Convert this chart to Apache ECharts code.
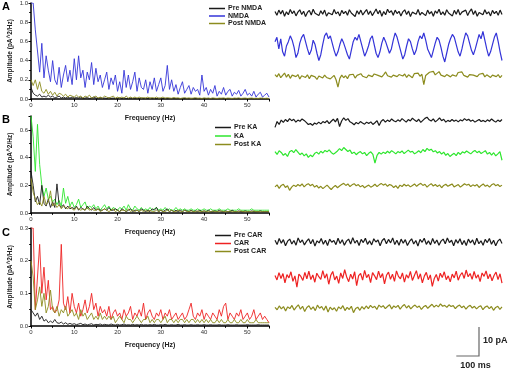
<!DOCTYPE html>
<html>
<head>
<meta charset="utf-8">
<script src="https://cdn.jsdelivr.net/npm/echarts@6/dist/echarts.min.js"></script>
<style>
  html, body { margin: 0; padding: 0; background: #fff; }
  #chart { width: 512px; height: 370px; }
</style>
</head>
<body>
<div id="chart"></div>
<script>
// spectra: amplitude (pA^2/Hz) sampled every 0.5 Hz from 0 to 55 Hz
const freqStep = 0.5
const spA_pre = [0.12, 0.06, 0.04, 0.03, 0.05, 0.02, 0.03, 0.02, 0.04, 0.02,
  0.03, 0.01, 0.02, 0.03, 0.01, 0.02, 0.01, 0.02, 0.01, 0.02,
  0.01, 0.015, 0.01, 0.02, 0.005, 0.01, 0.015, 0.005, 0.01, 0.02,
  0.01, 0.005, 0.015, 0.008, 0.01, 0.005, 0.012, 0.006, 0.01, 0.004,
  0.008, 0.012, 0.005, 0.01, 0.006, 0.004, 0.01, 0.005, 0.008, 0.004,
  0.006, 0.01, 0.004, 0.007, 0.005, 0.009, 0.004, 0.006, 0.003, 0.008,
  0.005, 0.004, 0.007, 0.003, 0.006, 0.004, 0.008, 0.003, 0.005, 0.004,
  0.006, 0.003, 0.005, 0.004, 0.007, 0.003, 0.004, 0.006, 0.003, 0.005,
  0.004, 0.003, 0.006, 0.004, 0.003, 0.005, 0.003, 0.004, 0.006, 0.003,
  0.004, 0.003, 0.005, 0.003, 0.004, 0.003, 0.005, 0.003, 0.004, 0.003,
  0.004, 0.003, 0.005, 0.003, 0.004, 0.003, 0.003, 0.004, 0.003, 0.004, 0.003]
const spA_nmda = [1.0, 1.0, 0.72, 0.5, 0.28, 0.58, 0.22, 0.45, 0.3, 0.18,
  0.4, 0.2, 0.15, 0.33, 0.12, 0.25, 0.35, 0.18, 0.3, 0.15,
  0.42, 0.2, 0.45, 0.22, 0.3, 0.12, 0.28, 0.2, 0.38, 0.15,
  0.32, 0.18, 0.25, 0.12, 0.2, 0.28, 0.1, 0.22, 0.15, 0.25,
  0.08, 0.18, 0.06, 0.3, 0.12, 0.25, 0.1, 0.18, 0.28, 0.08,
  0.22, 0.12, 0.1, 0.2, 0.06, 0.18, 0.1, 0.22, 0.08, 0.15,
  0.22, 0.08, 0.14, 0.35, 0.1, 0.2, 0.08, 0.15, 0.05, 0.12,
  0.18, 0.06, 0.1, 0.14, 0.05, 0.12, 0.08, 0.1, 0.04, 0.25,
  0.08, 0.12, 0.04, 0.1, 0.06, 0.14, 0.03, 0.08, 0.05, 0.12,
  0.04, 0.08, 0.1, 0.03, 0.07, 0.05, 0.09, 0.03, 0.06, 0.1,
  0.04, 0.06, 0.03, 0.08, 0.02, 0.05, 0.07, 0.02, 0.04, 0.06, 0.02]
const spA_post = [0.2, 0.14, 0.2, 0.1, 0.18, 0.08, 0.06, 0.1, 0.05, 0.08,
  0.04, 0.07, 0.03, 0.06, 0.05, 0.03, 0.05, 0.02, 0.04, 0.03,
  0.02, 0.04, 0.02, 0.03, 0.01, 0.03, 0.02, 0.04, 0.01, 0.02,
  0.03, 0.01, 0.02, 0.01, 0.03, 0.02, 0.01, 0.02, 0.03, 0.01,
  0.02, 0.01, 0.02, 0.01, 0.03, 0.01, 0.02, 0.01, 0.02, 0.01,
  0.02, 0.01, 0.015, 0.01, 0.02, 0.008, 0.015, 0.01, 0.02, 0.008,
  0.012, 0.02, 0.008, 0.015, 0.01, 0.008, 0.015, 0.01, 0.012, 0.006,
  0.01, 0.015, 0.008, 0.012, 0.006, 0.01, 0.014, 0.008, 0.01, 0.006,
  0.012, 0.008, 0.01, 0.006, 0.012, 0.008, 0.006, 0.01, 0.008, 0.012,
  0.006, 0.01, 0.008, 0.006, 0.01, 0.008, 0.012, 0.006, 0.008, 0.01,
  0.006, 0.008, 0.01, 0.006, 0.008, 0.006, 0.01, 0.008, 0.006, 0.008, 0.006]

const spB_pre = [0.3, 0.2, 0.08, 0.12, 0.06, 0.2, 0.07, 0.05, 0.1, 0.04,
  0.08, 0.04, 0.21, 0.06, 0.04, 0.06, 0.03, 0.05, 0.03, 0.04,
  0.03, 0.05, 0.02, 0.04, 0.03, 0.02, 0.05, 0.03, 0.02, 0.04,
  0.02, 0.03, 0.02, 0.02, 0.03, 0.02, 0.04, 0.02, 0.02, 0.03,
  0.02, 0.01, 0.03, 0.02, 0.01, 0.02, 0.03, 0.01, 0.02, 0.02,
  0.01, 0.03, 0.02, 0.01, 0.02, 0.01, 0.03, 0.02, 0.04, 0.01,
  0.02, 0.01, 0.02, 0.03, 0.01, 0.02, 0.01, 0.02, 0.01, 0.02,
  0.01, 0.02, 0.015, 0.01, 0.02, 0.01, 0.015, 0.01, 0.02, 0.01,
  0.015, 0.01, 0.02, 0.01, 0.01, 0.015, 0.01, 0.02, 0.01, 0.01,
  0.015, 0.01, 0.01, 0.02, 0.01, 0.01, 0.015, 0.01, 0.01, 0.015,
  0.01, 0.01, 0.015, 0.01, 0.01, 0.01, 0.015, 0.01, 0.01, 0.01, 0.01]
const spB_ka = [0.7, 0.55, 0.3, 0.64, 0.35, 0.2, 0.12, 0.18, 0.1, 0.12,
  0.08, 0.1, 0.06, 0.09, 0.05, 0.18, 0.07, 0.12, 0.05, 0.08,
  0.04, 0.06, 0.1, 0.04, 0.06, 0.08, 0.03, 0.05, 0.04, 0.06,
  0.03, 0.05, 0.02, 0.04, 0.06, 0.03, 0.05, 0.02, 0.04, 0.03,
  0.02, 0.04, 0.03, 0.05, 0.02, 0.06, 0.03, 0.02, 0.05, 0.03,
  0.02, 0.04, 0.02, 0.03, 0.02, 0.04, 0.02, 0.03, 0.04, 0.02,
  0.03, 0.02, 0.04, 0.02, 0.03, 0.02, 0.02, 0.04, 0.02, 0.03,
  0.02, 0.03, 0.02, 0.02, 0.03, 0.02, 0.02, 0.03, 0.02, 0.02,
  0.03, 0.02, 0.02, 0.03, 0.02, 0.02, 0.02, 0.03, 0.02, 0.02,
  0.02, 0.03, 0.02, 0.02, 0.02, 0.02, 0.03, 0.02, 0.02, 0.02,
  0.02, 0.02, 0.03, 0.02, 0.02, 0.02, 0.02, 0.02, 0.02, 0.02, 0.02]
const spB_post = [0.25, 0.15, 0.1, 0.06, 0.08, 0.05, 0.12, 0.06, 0.08, 0.16,
  0.05, 0.07, 0.04, 0.06, 0.03, 0.05, 0.04, 0.03, 0.05, 0.03,
  0.02, 0.04, 0.03, 0.02, 0.03, 0.02, 0.04, 0.02, 0.03, 0.02,
  0.02, 0.03, 0.01, 0.02, 0.03, 0.02, 0.01, 0.02, 0.03, 0.01,
  0.02, 0.01, 0.02, 0.02, 0.01, 0.03, 0.01, 0.02, 0.01, 0.02,
  0.01, 0.02, 0.01, 0.02, 0.01, 0.02, 0.01, 0.01, 0.02, 0.01,
  0.02, 0.01, 0.01, 0.02, 0.01, 0.02, 0.01, 0.01, 0.02, 0.01,
  0.01, 0.02, 0.01, 0.01, 0.015, 0.01, 0.01, 0.015, 0.01, 0.01,
  0.015, 0.01, 0.01, 0.01, 0.015, 0.01, 0.01, 0.01, 0.015, 0.01,
  0.01, 0.01, 0.015, 0.01, 0.01, 0.01, 0.01, 0.015, 0.01, 0.01,
  0.01, 0.01, 0.01, 0.015, 0.01, 0.01, 0.01, 0.01, 0.01, 0.01, 0.01]

const spC_pre = [0.05, 0.04, 0.03, 0.04, 0.02, 0.03, 0.015, 0.02, 0.01, 0.015,
  0.01, 0.02, 0.01, 0.008, 0.012, 0.006, 0.01, 0.005, 0.008, 0.005,
  0.007, 0.004, 0.006, 0.008, 0.004, 0.006, 0.003, 0.005, 0.007, 0.003,
  0.005, 0.004, 0.006, 0.003, 0.005, 0.004, 0.003, 0.006, 0.004, 0.003,
  0.005, 0.003, 0.004, 0.006, 0.003, 0.004, 0.003, 0.005, 0.003, 0.004,
  0.003, 0.005, 0.003, 0.004, 0.003, 0.004, 0.003, 0.005, 0.003, 0.003,
  0.004, 0.003, 0.005, 0.003, 0.003, 0.004, 0.003, 0.003, 0.005, 0.003,
  0.003, 0.004, 0.003, 0.003, 0.004, 0.003, 0.003, 0.004, 0.003, 0.003,
  0.004, 0.003, 0.003, 0.004, 0.003, 0.003, 0.003, 0.004, 0.003, 0.003,
  0.003, 0.004, 0.003, 0.003, 0.003, 0.004, 0.003, 0.003, 0.003, 0.003,
  0.004, 0.003, 0.003, 0.003, 0.003, 0.004, 0.003, 0.003, 0.003, 0.003, 0.003]
const spC_car = [0.3, 0.3, 0.05, 0.15, 0.25, 0.1, 0.18, 0.08, 0.14, 0.05,
  0.06, 0.04, 0.05, 0.08, 0.25, 0.07, 0.05, 0.09, 0.04, 0.1,
  0.06, 0.04, 0.07, 0.03, 0.05, 0.08, 0.04, 0.06, 0.1, 0.05,
  0.07, 0.03, 0.06, 0.04, 0.05, 0.03, 0.06, 0.02, 0.04, 0.05,
  0.03, 0.04, 0.02, 0.05, 0.03, 0.04, 0.06, 0.02, 0.04, 0.03,
  0.05, 0.03, 0.07, 0.02, 0.04, 0.05, 0.03, 0.02, 0.04, 0.03,
  0.05, 0.02, 0.04, 0.03, 0.05, 0.02, 0.03, 0.04, 0.02, 0.03,
  0.04, 0.02, 0.03, 0.05, 0.07, 0.03, 0.02, 0.04, 0.03, 0.05,
  0.02, 0.04, 0.03, 0.02, 0.04, 0.03, 0.02, 0.05, 0.03, 0.06,
  0.07, 0.02, 0.04, 0.03, 0.02, 0.04, 0.03, 0.05, 0.02, 0.03,
  0.04, 0.02, 0.03, 0.05, 0.02, 0.03, 0.04, 0.02, 0.03, 0.02, 0.01]
const spC_post = [0.2, 0.15, 0.05, 0.08, 0.12, 0.06, 0.1, 0.04, 0.06, 0.11,
  0.05, 0.04, 0.06, 0.03, 0.05, 0.04, 0.06, 0.03, 0.04, 0.05,
  0.03, 0.04, 0.02, 0.05, 0.03, 0.04, 0.02, 0.03, 0.04, 0.02,
  0.03, 0.02, 0.04, 0.02, 0.03, 0.02, 0.03, 0.02, 0.03, 0.01,
  0.02, 0.03, 0.02, 0.01, 0.03, 0.02, 0.02, 0.01, 0.02, 0.03,
  0.02, 0.01, 0.02, 0.02, 0.03, 0.01, 0.02, 0.01, 0.02, 0.02,
  0.01, 0.02, 0.03, 0.01, 0.02, 0.02, 0.01, 0.02, 0.01, 0.02,
  0.02, 0.01, 0.02, 0.01, 0.02, 0.02, 0.01, 0.02, 0.01, 0.02,
  0.01, 0.02, 0.01, 0.02, 0.01, 0.01, 0.02, 0.01, 0.02, 0.01,
  0.01, 0.02, 0.01, 0.01, 0.02, 0.01, 0.01, 0.02, 0.01, 0.01,
  0.02, 0.01, 0.01, 0.01, 0.02, 0.01, 0.01, 0.01, 0.01, 0.01, 0.01]

// current traces (pA), evenly spaced over 1000 ms
const traceMs = 1000
const trA_pre = [0.5,-0.8,1.0,-0.3,0.9,-1.1,0.4,-0.6,1.2,-0.2,0.7,-1.0,0.3,1.1,-0.5,0.6,-1.2,0.2,0.9,-0.7,1.3,-0.1,0.5,-0.9,0.8,-0.4,1.0,-1.1,0.1,0.7,-0.6,1.2,-0.3,0.4,-1.0,0.9,-0.2,0.6,-0.8,1.1,0.0,0.5,-1.2,0.8,-0.4,1.0,-0.7,0.3,1.2,-0.5,0.7,-0.9,0.2,1.4,-0.3,0.9,-1.1,0.5,-0.6,1.3,0.1,0.8,-0.8,1.0,-0.2,0.6,-1.0,0.4,1.1,-0.5,0.7,-1.2,0.3,0.9,-0.4,1.2,-0.7,0.2,0.8,-0.9,1.0,-0.3,0.5,-1.1,0.7,-0.1,1.3,-0.6,0.4,-0.8,1.1,0.0,0.6,-1.0,0.9,-0.4,1.2,-0.7,0.3,-0.2,1.0,-0.9,0.5,1.4,-0.5,0.8,-1.1,0.2,0.7,-0.6,1.1,-0.3,0.4,-1.0,0.9,-0.2,0.6,-0.8,1.0,-0.5]
const trA_nmda = [1.5,3.0,-1.0,2.5,-2.0,-3.5,0.0,1.5,3.5,2.0,-0.5,-4.0,-2.5,1.0,3.0,4.0,1.5,-1.0,-3.0,-1.5,2.0,0.5,-2.5,-5.0,-3.0,0.5,3.5,4.5,2.5,3.5,1.0,-1.5,-3.5,-2.0,0.5,2.5,1.0,-1.0,-3.0,-4.5,-1.5,1.5,3.0,2.0,4.0,1.5,-1.0,-3.5,-2.0,0.0,2.5,3.5,0.5,-2.5,-4.0,-2.0,1.0,3.0,1.5,-0.5,-2.5,-1.0,2.0,4.5,3.0,0.5,-2.0,-4.5,-3.0,0.0,2.5,1.5,-1.0,-3.0,-1.5,1.5,3.5,2.5,4.5,2.0,-1.0,-2.5,-4.0,-1.5,1.0,3.0,2.0,-0.5,-3.5,-5.5,-2.5,0.5,2.5,4.0,3.0,0.5,-2.0,-3.5,-1.0,2.0,4.5,3.5,1.0,-1.5,-3.0,-1.0,1.5,4.0,2.5,5.0,2.0,-1.0,-3.5,-2.0,0.5,3.0,4.5,1.5,-2.0,-5.0]
const trA_post = [0.5,-0.3,0.8,-0.6,0.2,1.0,-0.4,0.6,-0.8,0.3,0.9,-0.2,0.5,-1.0,0.1,0.7,-0.5,0.4,-0.9,0.2,0.6,-0.3,-1.2,0.0,0.4,-0.7,0.3,-0.5,0.1,-1.0,-0.4,0.2,-1.3,-3.8,-0.8,0.3,-0.6,0.1,-0.9,0.4,-0.2,0.6,-0.7,0.2,-0.4,0.8,-0.1,0.5,-0.6,0.3,0.9,-0.2,0.7,1.2,0.2,0.8,-0.3,0.5,1.4,0.1,0.6,-0.4,0.3,0.9,-0.2,0.5,1.1,0.0,0.7,-0.5,0.4,0.2,-0.6,0.8,0.3,1.0,-0.1,0.6,-3.0,0.2,0.5,1.3,0.7,1.6,0.4,0.9,1.5,0.3,0.8,-0.2,0.5,1.0,-0.3,0.4,0.9,-0.1,1.2,0.6,1.4,0.2,0.7,-0.4,0.5,1.1,0.3,0.8,-0.2,0.6,0.1,0.9,-0.3,0.4,0.7,-0.5,0.3,0.6,-0.2,0.5,-0.6,0.2]

const trB_pre = [-1.5,0.5,-0.5,1.0,0.2,1.2,0.5,1.5,0.8,1.3,0.3,1.0,0.6,1.4,0.9,0.2,-0.5,-0.2,-0.8,0.0,-0.4,0.3,-0.3,0.5,0.1,0.8,-0.2,0.6,1.3,0.4,1.6,-1.2,0.7,1.8,0.9,1.5,0.4,0.0,-0.6,0.2,-0.3,0.5,0.0,-0.4,0.3,-0.2,0.4,-0.5,0.1,0.8,-0.9,0.6,1.2,0.3,1.0,0.5,1.4,0.8,0.4,1.1,0.6,1.5,0.9,0.3,1.2,0.7,1.7,1.0,0.5,1.3,0.2,0.9,1.6,2.0,1.1,0.7,1.4,0.4,1.0,1.8,0.8,1.3,0.3,0.9,0.5,1.2,0.6,1.0,0.4,1.1,0.7,1.5,0.9,1.3,0.6,1.0,0.3,0.8,1.2,0.5,0.9,0.4,1.1,0.6,1.4,0.8,0.3,1.0,0.5,1.2]
const trB_ka = [0.5,-0.5,0.8,0.2,-0.8,-0.2,-1.2,0.4,0.9,0.1,1.2,0.3,-0.6,0.0,-1.0,-0.3,-1.5,-0.7,-1.3,-0.2,0.3,-0.4,0.6,0.0,0.9,0.4,1.1,0.2,-0.4,0.1,0.7,1.5,0.8,1.9,1.2,0.5,1.0,-0.2,0.3,-0.6,0.1,0.5,-0.3,0.2,-0.9,-0.1,0.4,-0.5,-3.5,-0.8,0.2,-0.4,0.3,-0.2,0.6,0.0,0.8,0.3,-0.3,0.5,0.1,0.7,-0.2,0.4,1.0,0.3,0.6,-0.3,0.2,0.8,0.1,1.2,0.5,1.6,0.9,1.3,0.4,0.8,0.0,0.5,-0.4,0.3,-0.8,-0.2,-1.2,-0.6,-0.1,-0.9,0.2,-0.5,0.4,0.0,0.7,0.2,-0.3,0.4,0.9,0.1,0.6,-0.2,0.3,0.8,-0.4,0.2,-0.7,0.1,-1.0,-0.3,0.5,-2.5]
const trB_post = [-0.3,0.4,-0.8,0.2,0.6,-0.5,0.1,-1.5,-0.4,0.3,-0.2,0.5,0.0,0.7,-0.3,0.4,0.8,0.1,0.6,-0.4,0.2,-0.7,-0.1,-0.9,-0.3,0.3,-0.5,-1.2,-0.4,0.2,-0.6,0.0,0.5,0.9,0.2,0.7,-0.2,0.4,0.8,0.1,0.5,-0.3,0.2,-0.6,-0.1,0.3,-0.4,0.0,0.6,-0.2,0.4,0.9,0.3,0.7,-0.1,0.5,0.2,-0.5,0.1,-0.8,0.3,-0.2,0.6,0.0,0.4,-0.3,0.2,0.7,-0.1,0.5,0.9,0.2,0.6,-0.4,0.3,0.8,0.0,0.5,-0.2,0.4,-0.6,0.2,0.6,-0.1,0.3,0.7,-0.3,0.1,0.5,-0.4,0.2,0.8,0.3,0.6,-0.2,0.4,0.0,0.5,-0.5,0.2,0.7,-0.1,0.3,-0.4,0.4,0.8,0.1,0.5,-0.2,0.3]

const trC_pre = [0.6,-0.9,1.2,-0.4,0.8,-1.3,0.3,1.0,-0.7,0.5,-1.1,1.4,-0.2,0.7,-1.0,0.2,1.1,-0.6,0.9,-1.4,0.4,-0.3,1.2,-0.8,0.6,-1.2,1.0,-0.1,0.5,-0.9,1.3,-0.5,0.8,-1.1,0.3,1.0,-0.7,1.5,-0.4,0.6,-1.2,0.9,-0.2,1.3,-0.8,0.4,-1.0,1.1,0.0,0.7,-1.3,0.5,1.2,-0.6,0.9,-0.3,1.4,-0.9,0.6,-1.1,1.0,-0.4,0.8,-1.2,0.2,1.1,-0.7,0.5,-1.4,0.9,-0.1,1.3,-0.8,0.4,-1.0,1.2,-0.5,0.7,-1.1,0.3,1.0,-0.6,1.4,-0.2,0.6,-1.3,0.8,-0.4,1.1,-0.9,0.5,-1.2,1.0,-0.3,0.7,-1.0,1.3,-0.6,0.4,-1.1,0.9,-0.2,1.2,-0.8,0.6,-1.3,0.3,1.0,-0.5]
const trC_car = [0.5,-1.0,1.5,-0.5,1.2,-2.0,0.8,-0.3,1.8,-1.5,0.4,-3.5,1.0,0.2,-1.2,1.6,-0.6,2.0,-0.9,0.7,-1.8,1.3,0.1,-0.8,2.2,-0.4,1.1,-2.5,0.6,1.9,-1.0,0.3,-2.2,1.4,-0.5,2.5,0.0,-1.6,1.0,-0.7,1.8,-3.0,0.5,1.2,-1.1,2.3,-0.2,0.9,-1.9,1.5,0.4,-0.9,2.0,-0.3,1.2,-2.4,0.6,1.7,-0.8,1.0,-1.5,2.1,0.2,-0.6,1.4,-1.8,0.8,-0.4,1.9,-1.2,0.5,2.2,-0.7,1.1,-2.0,0.3,1.6,-1.0,0.7,-3.2,-0.5,0.9,-1.4,1.3,-0.2,1.8,-0.9,0.4,-1.7,1.0,-0.3,2.0,-1.1,0.6,1.5,-0.5,2.4,0.1,1.2,-0.8,1.9,-0.4,0.8,-1.6,1.4,0.2,2.1,-0.6,1.0,-1.3,0.5,1.7,-0.9,1.1,-2.1]
const trC_post = [0.2,-0.6,0.7,-0.3,0.5,-1.0,0.4,-0.2,0.9,-0.7,0.3,1.1,-0.4,0.6,-1.2,0.2,0.8,-0.5,0.4,-0.9,1.0,-0.1,0.5,-0.8,0.7,-1.4,0.3,-0.6,0.1,-1.1,0.4,-0.3,0.8,-0.9,0.2,-0.5,0.6,-1.6,-0.2,0.3,-0.8,0.5,-0.4,0.7,-0.2,0.9,0.1,0.6,-0.5,1.0,0.3,0.8,-0.2,0.5,1.1,-0.3,0.7,0.2,0.9,-0.4,0.6,1.2,0.0,0.8,-0.3,0.5,1.0,0.2,0.7,-0.5,0.4,0.9,-0.1,0.6,1.3,0.3,1.0,0.4,1.4,0.6,0.9,0.2,1.1,0.5,0.8,-0.2,0.6,1.0,0.1,0.7,-0.4,0.5,0.9,0.0,0.6,-0.3,0.4,0.8,-0.6,0.3,0.7,-0.2,0.5,-0.8,0.2,0.6,-0.5,0.4]

const FONT = 'Liberation Sans'
const pxPerPA = 2.9
const traceLeft = 275, traceWidth = 227

function spec(arr) {
  return arr.map((v, i) => [i * freqStep, v])
}
function trace(arr) {
  const dt = traceMs / (arr.length - 1)
  return arr.map((v, i) => [i * dt, v])
}
function traceGrid(cy, r) {
  return { left: traceLeft, width: traceWidth, top: cy - r * pxPerPA, height: 2 * r * pxPerPA }
}

const axisLine = { show: true, lineStyle: { color: '#000', width: 1.5 } }
const axisTick = { show: true, inside: false, length: 2.5, lineStyle: { color: '#000', width: 1 } }
const minorTick = { show: true, splitNumber: 2, length: 1.8, lineStyle: { color: '#000', width: 1 } }

function specX(gi) {
  return {
    gridIndex: gi, type: 'value', min: 0, max: 55, interval: 10,
    name: 'Frequency (Hz)', nameLocation: 'middle', nameGap: 16,
    nameTextStyle: { fontFamily: FONT, fontSize: 7, fontWeight: 'bold', color: '#222' },
    axisLine, axisTick, minorTick,
    axisLabel: { fontFamily: FONT, fontSize: 6, color: '#333', margin: 3, showMaxLabel: false },
    splitLine: { show: false }
  }
}
function specY(gi, max, interval, showMax) {
  return {
    gridIndex: gi, type: 'value', min: 0, max, interval,
    name: 'Amplitude (pA^2/Hz)', nameLocation: 'middle', nameGap: 17,
    nameTextStyle: { fontFamily: FONT, fontSize: 6.5, fontWeight: 'bold', color: '#222' },
    axisLine, axisTick, minorTick,
    axisLabel: { fontFamily: FONT, fontSize: 6, color: '#333', margin: 3, showMaxLabel: showMax, formatter: v => v.toFixed(1) },
    splitLine: { show: false }
  }
}
function hiddenAxis(gi, min, max) {
  return { gridIndex: gi, type: 'value', min, max, show: false, splitLine: { show: false } }
}
function line(name, gi, data, color, width) {
  return {
    name, type: 'line', xAxisIndex: gi, yAxisIndex: gi, data,
    color, symbol: 'none', showSymbol: false, animation: false,
    lineStyle: { width: width, color }
  }
}
function legend(left, top, gap, names) {
  return {
    left, top, orient: 'vertical', padding: 0, itemGap: gap,
    icon: 'rect', itemWidth: 16, itemHeight: 1.5,
    textStyle: { fontFamily: FONT, fontSize: 7, fontWeight: 'bold', color: '#222', padding: [0, 0, 0, -2] },
    data: names
  }
}

const cPre = '#1a1a1a', cNmda = '#3434d8', cPost = '#8c8c1e', cKa = '#2ee62e', cCar = '#ee2222'

// [center y, half range in pA]
const traceRows = [[13, 3.5], [46, 6.5], [76, 6.5], [123, 4], [153, 5], [186, 4], [242, 4], [277, 5], [308, 4]]
const traceSets = [
  [trA_pre, cPre], [trA_nmda, cNmda], [trA_post, cPost],
  [trB_pre, cPre], [trB_ka, cKa], [trB_post, cPost],
  [trC_pre, cPre], [trC_car, cCar], [trC_post, cPost]
]

const grid = [
  { left: 31, width: 238, top: 2, height: 97 },
  { left: 31, width: 238, top: 116, height: 97 },
  { left: 31, width: 238, top: 228, height: 98 }
].concat(traceRows.map(r => traceGrid(r[0], r[1])))

const xAxis = [specX(0), specX(1), specX(2)]
  .concat(traceRows.map((r, i) => hiddenAxis(i + 3, 0, traceMs)))
const yAxis = [specY(0, 1, 0.2, true), specY(1, 0.7, 0.2, false), specY(2, 0.3, 0.1, true)]
  .concat(traceRows.map((r, i) => hiddenAxis(i + 3, -r[1], r[1])))

const series = [
  line('NMDA', 0, spec(spA_nmda), cNmda, 0.9),
  line('Pre NMDA', 0, spec(spA_pre), cPre, 0.9),
  line('Post NMDA', 0, spec(spA_post), cPost, 0.9),
  line('KA', 1, spec(spB_ka), cKa, 0.9),
  line('Pre KA', 1, spec(spB_pre), cPre, 0.9),
  line('Post KA', 1, spec(spB_post), cPost, 0.9),
  line('CAR', 2, spec(spC_car), cCar, 0.9),
  line('Pre CAR', 2, spec(spC_pre), cPre, 0.9),
  line('Post CAR', 2, spec(spC_post), cPost, 0.9)
].concat(traceSets.map((t, i) => line(null, i + 3, trace(t[0]), t[1], 1.2)))

// scale bar: 10 pA by 100 ms, same scale as the traces
const barX = 479, barY = 356
const barH = 10 * pxPerPA, barW = 100 * traceWidth / traceMs

const chart = echarts.init(document.getElementById('chart'))
chart.setOption({
  backgroundColor: '#fff',
  animation: false,
  grid,
  xAxis,
  yAxis,
  legend: [
    legend(209, 5, 0.5, ['Pre NMDA', 'NMDA', 'Post NMDA']),
    legend(215, 124, 1.5, ['Pre KA', 'KA', 'Post KA']),
    legend(215, 232, 1, ['Pre CAR', 'CAR', 'Post CAR'])
  ],
  graphic: [
    { type: 'text', left: 2, top: 1, style: { text: 'A', font: 'bold 11px ' + FONT, fill: '#000' } },
    { type: 'text', left: 2, top: 114, style: { text: 'B', font: 'bold 11px ' + FONT, fill: '#000' } },
    { type: 'text', left: 2, top: 227, style: { text: 'C', font: 'bold 11px ' + FONT, fill: '#000' } },
    {
      type: 'polyline',
      shape: { points: [[barX - barW, barY], [barX, barY], [barX, barY - barH]] },
      style: { stroke: '#666', lineWidth: 1.2, fill: null }
    },
    { type: 'text', x: barX + 4, y: barY - barH / 2 - 5, style: { text: '10 pA', font: 'bold 9px ' + FONT, fill: '#222' } },
    { type: 'text', x: barX - barW + 4, y: barY + 5, style: { text: '100 ms', font: 'bold 9px ' + FONT, fill: '#222' } }
  ],
  series
})
</script>
</body>
</html>
